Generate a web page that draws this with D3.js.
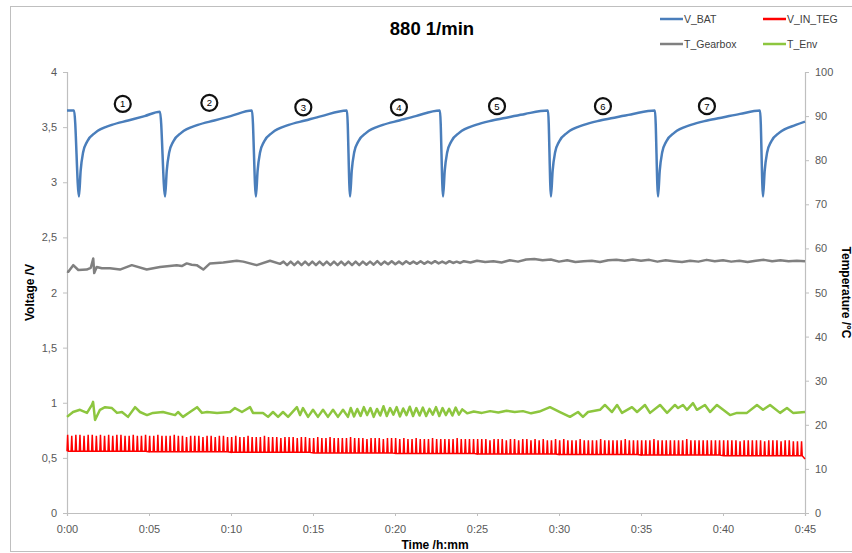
<!DOCTYPE html>
<html>
<head>
<meta charset="utf-8">
<script src="https://cdn.jsdelivr.net/npm/d3@7"></script>
<style>
body { margin: 0; background: #fff; }
text { font-family: "Liberation Sans", Arial, sans-serif; }
</style>
</head>
<body>
<div id="chartContainer"></div>
<script>
// ---- data ----
var seriesNames = ["V_BAT", "V_IN_TEG", "T_Gearbox", "T_Env"]
var xTicks = [0, 5, 10, 15, 20, 25, 30, 35, 40, 45]          // minutes
var voltTicks = [0, 0.5, 1, 1.5, 2, 2.5, 3, 3.5, 4]
var tempTicks = [0, 10, 20, 30, 40, 50, 60, 70, 80, 90, 100]

// V_BAT (V) against time (min)
var batTime = [0, 0.43, 0.73, 0.83, 0.98, 1.23, 1.73, 2.73, 3.73, 4.73, 5.67,
  5.98, 6.08, 6.23, 6.48, 6.98, 7.98, 8.98, 9.98, 11.28,
  11.52, 11.62, 11.77, 12.02, 12.52, 13.52, 14.52, 15.52, 17.07,
  17.26, 17.36, 17.51, 17.76, 18.26, 19.26, 20.26, 21.26, 22.74,
  22.93, 23.03, 23.18, 23.43, 23.93, 24.93, 25.93, 26.93, 27.93, 29.33,
  29.51, 29.61, 29.76, 30.01, 30.51, 31.51, 32.51, 33.51, 34.51, 35.85,
  36.04, 36.14, 36.29, 36.54, 37.04, 38.04, 39.04, 40.04, 41.04, 42.26,
  42.44, 42.54, 42.69, 42.94, 43.44, 44.44, 45]
var batVolt = [3.65, 3.65, 2.87, 3.10, 3.27, 3.37, 3.45, 3.52, 3.56, 3.60, 3.64,
  2.87, 3.10, 3.27, 3.37, 3.45, 3.52, 3.56, 3.60, 3.65,
  2.87, 3.10, 3.27, 3.37, 3.45, 3.52, 3.56, 3.60, 3.65,
  2.87, 3.10, 3.27, 3.37, 3.45, 3.52, 3.56, 3.60, 3.65,
  2.87, 3.10, 3.27, 3.37, 3.45, 3.52, 3.56, 3.59, 3.62, 3.65,
  2.87, 3.10, 3.27, 3.37, 3.45, 3.52, 3.56, 3.59, 3.62, 3.65,
  2.87, 3.10, 3.27, 3.37, 3.45, 3.52, 3.56, 3.59, 3.62, 3.65,
  2.87, 3.10, 3.27, 3.37, 3.45, 3.52, 3.55]

// V_IN_TEG: one pulse every tegStep minutes, top and base of each pulse (V)
var tegStep = 0.25
var tegHigh = [
  0.71,0.70,0.71,0.71,0.70,0.71,0.71,0.70,0.71,0.70,0.71,0.70,0.71,0.71,0.70,0.70,0.71,0.70,0.70,0.71,
  0.70,0.70,0.71,0.70,0.70,0.70,0.71,0.70,0.70,0.69,0.70,0.70,0.70,0.69,0.70,0.70,0.69,0.70,0.70,0.69,
  0.69,0.70,0.69,0.69,0.70,0.69,0.69,0.69,0.70,0.69,0.69,0.69,0.68,0.69,0.69,0.69,0.68,0.69,0.69,0.68,
  0.68,0.69,0.68,0.68,0.69,0.68,0.68,0.68,0.68,0.69,0.68,0.68,0.68,0.67,0.68,0.68,0.68,0.67,0.68,0.68,
  0.68,0.67,0.68,0.67,0.67,0.68,0.67,0.67,0.67,0.68,0.67,0.67,0.67,0.67,0.67,0.68,0.67,0.67,0.67,0.67,
  0.67,0.67,0.67,0.66,0.67,0.67,0.67,0.66,0.67,0.67,0.66,0.67,0.67,0.66,0.67,0.66,0.67,0.66,0.66,0.67,
  0.66,0.67,0.66,0.66,0.66,0.67,0.66,0.66,0.66,0.66,0.67,0.66,0.66,0.66,0.66,0.66,0.67,0.66,0.66,0.66,
  0.66,0.66,0.66,0.67,0.66,0.66,0.66,0.66,0.66,0.66,0.66,0.67,0.66,0.66,0.66,0.66,0.66,0.66,0.66,0.66,
  0.66,0.66,0.66,0.66,0.65,0.66,0.66,0.66,0.66,0.66,0.65,0.66,0.66,0.66,0.65,0.66,0.66,0.65,0.65,0.65]
var tegLow = [
  0.56,0.56,0.56,0.56,0.56,0.56,0.56,0.56,0.56,0.56,0.56,0.56,0.56,0.56,0.56,0.56,0.56,0.56,0.56,0.56,
  0.555,0.555,0.555,0.555,0.555,0.555,0.555,0.555,0.555,0.555,0.555,0.555,0.555,0.555,0.555,0.555,0.555,0.555,0.555,0.555,
  0.55,0.55,0.55,0.55,0.55,0.55,0.55,0.55,0.55,0.55,0.55,0.55,0.55,0.55,0.55,0.55,0.55,0.55,0.55,0.55,
  0.545,0.545,0.545,0.545,0.545,0.545,0.545,0.545,0.545,0.545,0.545,0.545,0.545,0.545,0.545,0.545,0.545,0.545,0.545,0.545,
  0.54,0.54,0.54,0.54,0.54,0.54,0.54,0.54,0.54,0.54,0.54,0.54,0.54,0.54,0.54,0.54,0.54,0.54,0.54,0.54,
  0.535,0.535,0.535,0.535,0.535,0.535,0.535,0.535,0.535,0.535,0.535,0.535,0.535,0.535,0.535,0.535,0.535,0.535,0.535,0.535,
  0.53,0.53,0.53,0.53,0.53,0.53,0.53,0.53,0.53,0.53,0.53,0.53,0.53,0.53,0.53,0.53,0.53,0.53,0.53,0.53,
  0.525,0.525,0.525,0.525,0.525,0.525,0.525,0.525,0.525,0.525,0.525,0.525,0.525,0.525,0.525,0.525,0.525,0.525,0.525,0.525,
  0.52,0.52,0.52,0.52,0.52,0.52,0.52,0.52,0.52,0.52,0.52,0.52,0.52,0.52,0.52,0.52,0.52,0.52,0.52,0.52]
var tegEnd = 0.49

// T_Gearbox (°C)
var gearTime = [0, 0.08, 0.38, 0.69, 1.2, 1.45, 1.6, 1.66, 1.81, 2.12, 2.62, 3.23, 3.95, 4.86, 5.67,
  6.69, 7.0, 7.3, 7.6, 7.91, 8.31, 8.72, 9.53, 10.35, 10.75, 11.57, 12.38, 12.99,
  13.2, 13.42, 13.64, 13.86, 14.08, 14.3, 14.52, 14.74, 14.96, 15.18, 15.4, 15.62, 15.84, 16.06, 16.28, 16.5, 16.72, 16.94,
  17.16, 17.38, 17.6, 17.82, 18.04, 18.26, 18.48, 18.7, 18.92, 19.14, 19.36, 19.58, 19.8, 20.02, 20.24, 20.46, 20.68, 20.9,
  21.12, 21.34, 21.56, 21.78, 22.0, 22.22, 22.44, 22.66, 22.88, 23.1, 23.32, 23.54, 23.76, 23.98, 24.2,
  24.6, 25.0, 25.5, 26.0, 26.5, 27.0, 27.5, 28.0, 28.5, 29.0, 29.5, 30.0, 30.5, 31.0, 31.5, 32.0, 32.5, 33.0, 33.5,
  34.0, 34.5, 35.0, 35.5, 36.0, 36.5, 37.0, 37.5, 38.0, 38.5, 39.0, 39.5, 40.0, 40.5, 41.0, 41.5, 42.0, 42.5, 43.0,
  43.5, 44.0, 44.5, 45.0]
var gearTemp = [54.8, 54.7, 56.2, 55.1, 55.2, 55.6, 57.7, 54.4, 55.8, 55.5, 55.5, 55.2, 56.2, 55.2, 55.8,
  56.2, 56.0, 56.6, 56.3, 56.2, 55.2, 56.6, 56.8, 57.2, 57.0, 56.2, 57.2, 56.5,
  57.0, 56.2, 57.0, 56.2, 57.0, 56.2, 57.0, 56.2, 57.0, 56.2, 57.0, 56.2, 57.0, 56.2, 57.0, 56.2, 57.0, 56.2,
  57.0, 56.2, 57.0, 56.2, 57.0, 56.3, 57.0, 56.3, 57.1, 56.3, 57.0, 56.4, 57.1, 56.4, 57.0, 56.4, 57.1, 56.5,
  57.0, 56.5, 57.1, 56.5, 57.0, 56.6, 57.1, 56.6, 57.0, 56.6, 57.1, 56.7, 57.0, 56.7, 57.1,
  56.8, 57.2, 56.9, 57.1, 56.8, 57.3, 57.0, 57.5, 57.6, 57.3, 57.5, 57.0, 57.3, 56.9, 57.1, 57.2, 56.9, 57.3, 57.4,
  57.2, 57.5, 57.2, 57.4, 57.0, 57.3, 57.1, 56.9, 57.2, 57.0, 57.4, 57.1, 57.3, 57.0, 57.2, 56.9, 57.2, 57.4, 57.1,
  57.3, 57.1, 57.2, 57.1]

// T_Env (°C)
var envTime = [0, 0.37, 0.79, 1.22, 1.52, 1.59, 1.71, 2.01, 2.32, 2.74, 3.05, 3.35, 3.72, 4.15, 4.45, 4.88,
  5.24, 5.85, 6.59, 6.77, 7.07, 7.5, 7.93, 8.23, 8.54, 9.15, 9.94, 10.24, 10.67, 11.16, 11.34, 11.95,
  12.26, 12.56, 12.87, 13.17, 13.48, 14.02, 14.21, 14.39, 14.7, 15.0, 15.3, 15.61, 15.91, 16.22, 16.52, 16.83, 17.13,
  17.3, 17.5, 17.7, 17.9, 18.1, 18.3, 18.5, 18.7, 18.9, 19.1, 19.3, 19.5, 19.7, 19.9, 20.1, 20.3, 20.5, 20.7,
  20.9, 21.1, 21.3, 21.5, 21.7, 21.9, 22.1, 22.3, 22.5, 22.7, 22.9, 23.1, 23.3, 23.5, 23.7, 23.9, 24.1, 24.4,
  24.8, 25.3, 25.8, 26.3, 26.8, 27.3, 27.8, 28.3, 28.8, 29.45, 30.06, 30.67, 31.16, 31.46, 31.77, 32.5, 32.8,
  33.23, 33.54, 33.84, 34.45, 34.76, 35.24, 35.55, 36.16, 36.59, 37.07, 37.26, 37.56, 37.8, 38.17, 38.41, 38.9,
  39.21, 39.63, 40.43, 40.85, 41.46, 42.07, 42.44, 42.87, 43.48, 43.9, 44.27, 45]
var envTemp = [21.8, 22.9, 23.4, 22.7, 24.5, 25.2, 21.1, 23.4, 24.0, 23.8, 22.7, 22.9, 21.8, 24.0, 22.9, 22.2,
  22.7, 22.9, 22.2, 22.9, 21.8, 22.9, 24.0, 22.7, 22.9, 22.7, 22.9, 23.8, 22.9, 24.0, 22.7, 22.7,
  21.8, 22.9, 21.8, 22.9, 21.8, 24.0, 22.2, 23.8, 21.8, 23.4, 21.8, 23.4, 21.8, 23.4, 21.8, 23.4, 21.8,
  23.8, 21.9, 23.6, 22.0, 24.0, 22.2, 23.8, 21.8, 23.6, 22.1, 24.2, 22.0, 23.8, 22.3, 24.0, 21.9, 23.7, 22.2,
  24.1, 22.0, 23.8, 22.1, 23.9, 22.0, 23.6, 22.3, 24.0, 22.0, 23.8, 22.2, 23.6, 22.1, 23.9, 22.3, 23.5, 22.6,
  23.0, 22.7, 23.1, 22.8, 23.2, 22.9, 23.1, 22.6, 23.0, 24.0, 22.9, 21.8, 22.9, 21.8, 22.9, 23.4, 24.5,
  22.9, 24.5, 22.7, 24.0, 22.9, 24.5, 22.7, 24.5, 22.7, 24.5, 23.8, 24.5, 23.4, 24.9, 23.4, 24.5,
  22.9, 24.5, 22.2, 22.7, 22.7, 24.5, 23.4, 24.5, 22.7, 23.8, 22.7, 22.9]

// circled cycle numbers
var cycleLabels = ["1", "2", "3", "4", "5", "6", "7"]
var cycleTime = [3.4, 8.68, 14.41, 20.24, 26.22, 32.68, 39.02]
var cycleVolt = [3.71, 3.72, 3.68, 3.68, 3.69, 3.69, 3.69]

// ---- styles ----
var colors = {"V_BAT": "#4a7ebb", "V_IN_TEG": "#ff0000", "T_Gearbox": "#808080", "T_Env": "#8dc63f"}

var W = 852, H = 553
var margin = {top: 72, right: 47, bottom: 40, left: 67}
var width = W - margin.left - margin.right
var height = H - margin.top - margin.bottom

var svg = d3.select("#chartContainer").append("svg")
  .attr("width", W)
  .attr("height", H)

// outer frame
svg.append("rect")
  .attr("x", 10.5).attr("y", 6.5)
  .attr("width", 860).attr("height", 545)
  .attr("fill", "none").attr("stroke", "#bfbfbf")

var g = svg.append("g")
  .attr("transform", "translate(" + margin.left + "," + margin.top + ")")

var x = d3.scaleLinear().domain([0, 45]).range([0, width])
var yV = d3.scaleLinear().domain([0, 4]).range([height, 0])
var yT = d3.scaleLinear().domain([0, 100]).range([height, 0])

function styleAxis(sel){
  sel.select(".domain").attr("stroke", "#bfbfbf").attr("stroke-width", 1.2)
  sel.selectAll(".tick line").attr("stroke", "#bfbfbf")
  sel.selectAll(".tick text").attr("fill", "#595959")
    .style("font-size", "11px").style("font-family", "Liberation Sans, Arial, sans-serif")
}

g.append("g")
  .attr("transform", "translate(0," + height + ")")
  .call(d3.axisBottom(x).tickValues(xTicks).tickSizeOuter(0).tickSize(3).tickPadding(9)
    .tickFormat(d => "0:" + (d < 10 ? "0" + d : d)))
  .call(styleAxis)

g.append("g")
  .call(d3.axisLeft(yV).tickValues(voltTicks).tickSizeOuter(0).tickSize(4).tickPadding(6)
    .tickFormat(d => String(d).replace(".", ",")))
  .call(styleAxis)

g.append("g")
  .attr("transform", "translate(" + width + ",0)")
  .call(d3.axisRight(yT).tickValues(tempTicks).tickSizeOuter(0).tickSize(4).tickPadding(6))
  .call(styleAxis)

// series
var teg = []
tegHigh.forEach(function(h, i){
  var t = i * tegStep
  teg.push([t, tegLow[i]], [t + 0.04, h], [t + 0.08, tegLow[i]])
})
teg.push([45, tegEnd])

g.append("path")
  .datum(teg)
  .attr("fill", "none")
  .attr("stroke", colors["V_IN_TEG"])
  .attr("stroke-width", 1.5)
  .attr("d", d3.line().x(d => x(d[0])).y(d => yV(d[1])))

g.append("path")
  .datum(envTime.map((t, i) => [t, envTemp[i]]))
  .attr("fill", "none")
  .attr("stroke", colors["T_Env"])
  .attr("stroke-width", 2.5)
  .attr("stroke-linejoin", "round")
  .attr("d", d3.line().x(d => x(d[0])).y(d => yT(d[1])))

g.append("path")
  .datum(gearTime.map((t, i) => [t, gearTemp[i]]))
  .attr("fill", "none")
  .attr("stroke", colors["T_Gearbox"])
  .attr("stroke-width", 2.5)
  .attr("stroke-linejoin", "round")
  .attr("d", d3.line().x(d => x(d[0])).y(d => yT(d[1])))

g.append("path")
  .datum(batTime.map((t, i) => [t, batVolt[i]]))
  .attr("fill", "none")
  .attr("stroke", colors["V_BAT"])
  .attr("stroke-width", 2.5)
  .attr("d", d3.line().curve(d3.curveMonotoneX).x(d => x(d[0])).y(d => yV(d[1])))

// circled numbers
var marks = g.selectAll(".cyc")
  .data(cycleLabels)
  .enter().append("g")
  .attr("transform", (d, i) => "translate(" + x(cycleTime[i]) + "," + yV(cycleVolt[i]) + ")")
marks.append("circle")
  .attr("r", 8)
  .attr("fill", "#fff")
  .attr("stroke", "#111")
  .attr("stroke-width", 2.2)
marks.append("text")
  .attr("text-anchor", "middle")
  .attr("dy", "0.35em")
  .style("font-size", "9.5px")
  .attr("fill", "#000")
  .text(d => d)

// titles
svg.append("text")
  .attr("x", 432).attr("y", 35)
  .attr("text-anchor", "middle")
  .style("font-size", "18.5px").style("font-weight", "bold")
  .text("880 1/min")

svg.append("text")
  .attr("x", 435).attr("y", 549)
  .attr("text-anchor", "middle")
  .style("font-size", "12px").style("font-weight", "bold")
  .text("Time /h:mm")

svg.append("text")
  .attr("transform", "translate(34," + (margin.top + height / 2) + ") rotate(-90)")
  .attr("text-anchor", "middle")
  .style("font-size", "12px").style("font-weight", "bold")
  .text("Voltage /V")

svg.append("text")
  .attr("transform", "translate(842," + (margin.top + height / 2) + ") rotate(90)")
  .attr("text-anchor", "middle")
  .style("font-size", "12px").style("font-weight", "bold")
  .text("Temperature /°C")

// legend
var legX = [660, 763, 660, 763]
var legY = [19, 19, 44, 44]
var leg = svg.selectAll(".leg")
  .data(seriesNames)
  .enter().append("g")
  .attr("transform", (d, i) => "translate(" + legX[i] + "," + legY[i] + ")")
leg.append("line")
  .attr("x1", 0).attr("x2", 23)
  .attr("stroke", d => colors[d])
  .attr("stroke-width", 2.5)
leg.append("text")
  .attr("x", 24).attr("dy", "0.35em")
  .style("font-size", "10.5px")
  .attr("fill", "#404040")
  .text(d => d)
</script>
</body>
</html>
